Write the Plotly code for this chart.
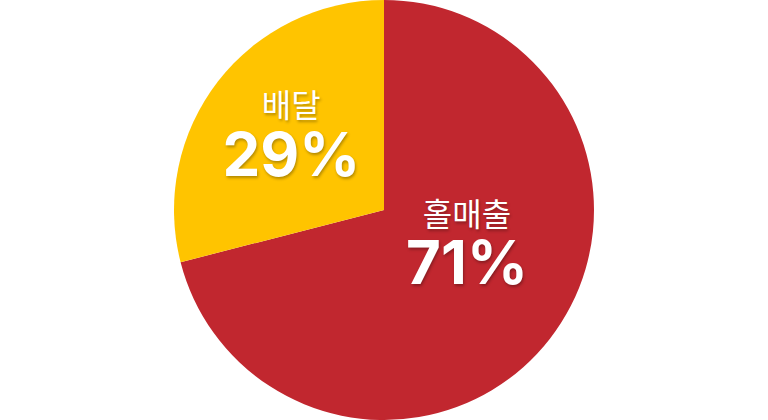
import plotly.graph_objects as go

labels = ["홀매출", "배달"]
values = [71, 29]
colors = ["#C1272F", "#FFC400"]
# extra blank line under label block (lifts the text within the slice)
lift = [True, False]

texts = []
for l, v, up in zip(labels, values, lift):
    t = (f"<span style='font-size:32px'>{l}</span><br>"
         f"<span style='font-size:60px;font-weight:700'>{v}%</span>")
    if up:
        t += "<br>&nbsp;"
    texts.append(t)

fig = go.Figure(go.Pie(
    labels=labels,
    values=values,
    text=texts,
    texttemplate="%{text}",
    textinfo="text",
    textposition="inside",
    insidetextorientation="horizontal",
    sort=False,
    direction="clockwise",
    rotation=0,
    marker=dict(colors=colors, line=dict(width=0)),
    textfont=dict(family="Inter, Noto Sans CJK KR, sans-serif", size=45, color="white",
                  shadow="1px 2px 3px rgba(0,0,0,0.3)"),
    hoverinfo="none",
    showlegend=False,
))

fig.update_layout(
    width=768, height=420,
    margin=dict(l=0, r=0, t=0, b=0),
    paper_bgcolor="white",
    plot_bgcolor="white",
    uniformtext=dict(mode=False),
)

fig.write_html("out.html", config={"displayModeBar": False},
               post_script="document.body.style.margin='0';")
